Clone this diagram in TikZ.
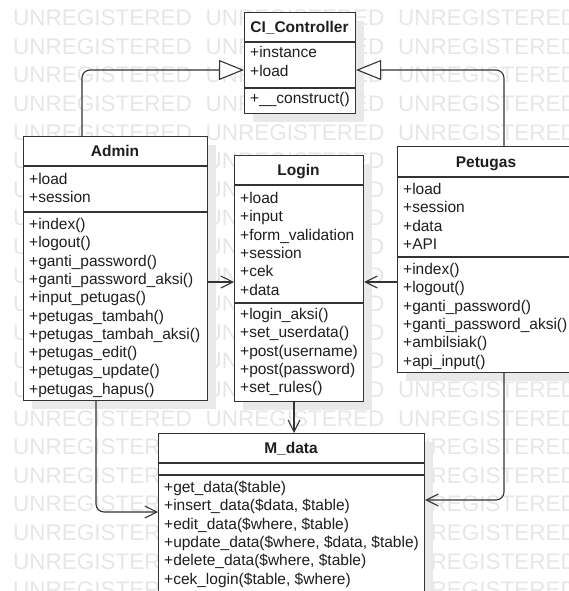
\documentclass[tikz,border=0pt]{standalone}
\usepackage{fontspec}
\setmainfont{Liberation Sans}
\usetikzlibrary{arrows.meta,shadows}
\definecolor{ink}{HTML}{333333}
\definecolor{txt}{HTML}{1E1E1E}
\definecolor{wm}{HTML}{E6E6E6}
\definecolor{shade}{HTML}{E9E9E9}

% class box: name, x1, y1, x2, y2, header divider, member divider, title
\newcommand\umlclass[8]{%
  \node[classbox, minimum width={(#4-#2)*1pt}, minimum height={(#5-#3)*1pt}] (#1) at (#2,#3) {};
  \draw[divider] (#2,#6) -- (#4,#6);
  \draw[divider] (#2,#7) -- (#4,#7);
  \node[ctitle] (#1-title) at ({(#2+#4)/2}, {(#3+#6)/2+5.5}) {#8};
}
% member list: name, x, first baseline, items
\newcommand\members[4]{%
  \foreach \t [count=\i from 0] in {#4}
    \node[member] (#1-\i) at (#2, {#3+18.3*\i}) {\t};
}

\begin{document}
\begin{tikzpicture}[x=1pt,y=-1pt,
  classbox/.style={draw=ink, line width=1.1pt, fill=white, rectangle, inner sep=0pt,
    anchor=north west,
    drop shadow={shadow xshift=8pt, shadow yshift=-8pt, fill=shade, opacity=1}},
  divider/.style={draw=ink, line width=1.1pt},
  ctitle/.style={anchor=base, inner sep=0pt, text=txt, font=\fontsize{15.5}{18}\selectfont\bfseries},
  member/.style={anchor=base west, inner sep=0pt, text=txt, font=\fontsize{15.5}{18}\selectfont},
  wmark/.style={anchor=west, inner sep=0pt, text=wm, font=\fontsize{22.5}{24}\selectfont},
  gen/.style={draw=ink, line width=1.1pt, rounded corners=8pt,
    -{Triangle[open, length=25pt, width=20pt, fill=white]}},
  dep/.style={draw=ink, line width=1.1pt, rounded corners=8pt,
    -{Straight Barb[length=12pt, width=12pt]}},
]
\useasboundingbox (0,0) rectangle (569,591);
\clip (0,0) rectangle (569,591);

% background watermark
\foreach \r in {0,...,20}
  \foreach \c in {0,1,2}
    \node[wmark] (wm-\r-\c) at ({13+192.5*\c}, {18+28.6*\r}) {UNREGISTERED};

% classes
\umlclass{ci}{244}{12}{355}{113}{42}{88}{CI\_Controller}
\members{cia}{250}{58}{+instance, +load}
\members{cim}{250}{104}{+\_\_construct()}

\umlclass{admin}{23}{136}{207}{400}{166}{212}{Admin}
\members{ada}{29}{184.5}{+load, +session}
\members{adm}{29}{229.5}{+index(), +logout(), +ganti\_password(), +ganti\_password\_aksi(),
  +input\_petugas(), +petugas\_tambah(), +petugas\_tambah\_aksi(), +petugas\_edit(),
  +petugas\_update(), +petugas\_hapus()}

\umlclass{login}{234}{155}{363}{401}{185}{303}{Login}
\members{loa}{240}{203.5}{+load, +input, +form\_validation, +session, +cek, +data}
\members{lom}{240}{319.5}{+login\_aksi(), +set\_userdata(), +post(username), +post(password), +set\_rules()}

\umlclass{petugas}{397}{146}{575}{372}{177}{257}{Petugas}
\members{pea}{403}{194.5}{+load, +session, +data, +API}
\members{pem}{403}{274.5}{+index(), +logout(), +ganti\_password(), +ganti\_password\_aksi(),
  +ambilsiak(), +api\_input()}

\umlclass{mdata}{158}{433}{424}{600}{463}{475}{M\_data}
\members{mdm}{164}{492.5}{{+get\_data(\$table)}, {+insert\_data(\$data, \$table)},
  {+edit\_data(\$where, \$table)}, {+update\_data(\$where, \$data, \$table)},
  {+delete\_data(\$where, \$table)}, {+cek\_login(\$table, \$where)}}

% generalisations to CI_Controller
\draw[gen] ([xshift=59pt]admin.north west) |- ([yshift=-58pt]ci.north west);
\draw[gen] ([xshift=107pt]petugas.north west) |- ([yshift=-58pt]ci.north east);

% dependencies
\coordinate (al) at ([yshift=-146pt]admin.north east);
\draw[dep] (al) -- (al -| login.west);
\coordinate (pl) at ([yshift=-136pt]petugas.north west);
\draw[dep] (pl) -- (pl -| login.east);
\coordinate (lm) at ([xshift=60pt]login.south west);
\draw[dep] (lm) -- (lm |- mdata.north);
\coordinate (am) at ([xshift=73pt]admin.south west);
\draw[dep] (am) |- ([yshift=-79pt]mdata.north west);
\coordinate (pm) at ([xshift=107pt]petugas.south west);
\draw[dep] (pm) |- ([yshift=-67pt]mdata.north east);
\end{tikzpicture}
\end{document}
